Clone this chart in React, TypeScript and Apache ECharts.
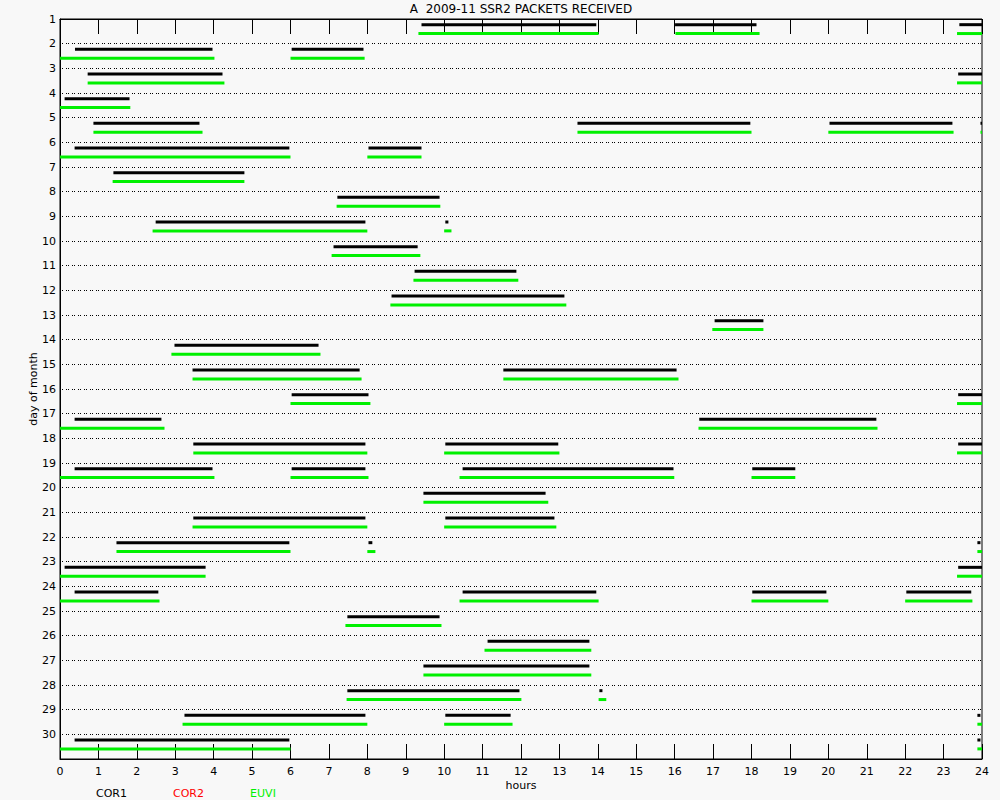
import React, { useEffect, useRef } from "react";
import * as echarts from "echarts";

const titleText = "A  2009-11 SSR2 PACKETS RECEIVED";
const hourTicks = Array.from({ length: 25 }, (_, i) => i);
const legendNames = ["COR1", "COR2", "EUVI"];

// [day, startHour, endHour]
const cor1Segments: number[][] = [
  [1, 9.41, 13.96], [1, 16.01, 18.13], [1, 23.41, 24],
  [2, 0.39, 3.97], [2, 6.03, 7.9],
  [3, 0.72, 4.23], [3, 23.38, 24],
  [4, 0.12, 1.81],
  [5, 0.87, 3.63], [5, 13.47, 17.97], [5, 20.03, 23.23], [5, 23.96, 24],
  [6, 0.38, 5.97], [6, 8.03, 9.41],
  [7, 1.39, 4.8],
  [8, 7.22, 9.88],
  [9, 2.49, 7.95], [9, 10.03, 10.11],
  [10, 7.12, 9.31],
  [11, 9.23, 11.88],
  [12, 8.63, 13.13],
  [13, 17.04, 18.31],
  [14, 2.98, 6.73],
  [15, 3.45, 7.8], [15, 11.54, 16.05],
  [16, 6.03, 8.03], [16, 23.38, 24],
  [17, 0.38, 2.64], [17, 16.64, 21.25],
  [18, 3.47, 7.95], [18, 10.03, 12.97], [18, 23.38, 24],
  [19, 0.38, 3.97], [19, 6.03, 7.95], [19, 10.48, 15.97], [19, 18.02, 19.14],
  [20, 9.46, 12.64],
  [21, 3.47, 7.95], [21, 10.03, 12.87],
  [22, 1.47, 5.97], [22, 8.03, 8.13], [22, 23.88, 23.96],
  [23, 0.12, 3.79], [23, 23.38, 24],
  [24, 0.38, 2.56], [24, 10.48, 13.96], [24, 18.02, 19.95], [24, 22.03, 23.72],
  [25, 7.48, 9.88],
  [26, 11.13, 13.78],
  [27, 9.46, 13.78],
  [28, 7.48, 11.96], [28, 14.04, 14.12],
  [29, 3.24, 7.95], [29, 10.03, 11.73], [29, 23.88, 23.96],
  [30, 0.38, 5.97], [30, 23.88, 23.96],
];

const cor2Segments: number[][] = [];

const euviSegments: number[][] = [
  [1, 9.33, 14.02], [1, 16.02, 18.21], [1, 23.35, 24],
  [2, 0, 4.02], [2, 6.0, 7.93],
  [3, 0.72, 4.28], [3, 23.35, 24],
  [4, 0, 1.83],
  [5, 0.87, 3.71], [5, 13.47, 18.0], [5, 20.0, 23.26], [5, 23.96, 24],
  [6, 0, 6.0], [6, 8.0, 9.41],
  [7, 1.37, 4.8],
  [8, 7.2, 9.9],
  [9, 2.41, 8.0], [9, 10.0, 10.19],
  [10, 7.07, 9.38],
  [11, 9.2, 11.93],
  [12, 8.6, 13.18],
  [13, 16.98, 18.31],
  [14, 2.9, 6.78],
  [15, 3.45, 7.85], [15, 11.54, 16.1],
  [16, 6.0, 8.08], [16, 23.35, 24],
  [17, 0, 2.72], [17, 16.62, 21.28],
  [18, 3.47, 8.0], [18, 10.0, 13.0], [18, 23.35, 24],
  [19, 0, 4.02], [19, 6.0, 8.03], [19, 10.4, 15.99], [19, 18.0, 19.14],
  [20, 9.46, 12.71],
  [21, 3.45, 8.0], [21, 10.0, 12.92],
  [22, 1.47, 6.0], [22, 8.0, 8.21], [22, 23.88, 24],
  [23, 0, 3.79], [23, 23.35, 24],
  [24, 0, 2.59], [24, 10.4, 14.02], [24, 18.0, 20.0], [24, 22.0, 23.75],
  [25, 7.43, 9.93],
  [26, 11.05, 13.83],
  [27, 9.46, 13.83],
  [28, 7.46, 12.01], [28, 14.02, 14.22],
  [29, 3.19, 8.0], [29, 10.0, 11.78], [29, 23.88, 24],
  [30, 0, 6.0], [30, 23.88, 24],
];

const FONT = "DejaVu Sans";
const BLACK = "#000000";
const RED = "#ff0000";
const GREEN = "#00f000";

function makeSeries(name: string, data: number[][], color: string, offset: number) {
  return {
    type: "custom",
    name,
    xAxisIndex: 0,
    yAxisIndex: 0,
    data,
    encode: { x: [1, 2], y: 0 },
    renderItem: (params: any, api: any) => {
      const day = api.value(0);
      const s = api.coord([api.value(1), day + offset]);
      const e = api.coord([api.value(2), day + offset]);
      const w = Math.max(e[0] - s[0], 1.5);
      return {
        type: "rect",
        shape: { x: s[0], y: s[1] - 1.5, width: w, height: 3 },
        style: { fill: color },
      };
    },
  };
}

export default function App() {
  const ref = useRef<HTMLDivElement>(null);
  useEffect(() => {
    if (!ref.current) return;
    const chart = echarts.init(ref.current, null, { renderer: "svg" });
    const axisCommon = {
      type: "value",
      min: hourTicks[0],
      max: hourTicks[hourTicks.length - 1],
      interval: 1,
      splitLine: { show: false },
      axisLine: { show: true, lineStyle: { color: BLACK, width: 1 } },
      axisTick: { show: true, inside: true, length: 15, lineStyle: { color: BLACK, width: 1 } },
    };
    chart.setOption({
      animation: false,
      backgroundColor: "#f8f8f8",
      textStyle: { fontFamily: FONT },
      grid: {
        left: 60,
        right: 18,
        top: 19,
        bottom: 41,
        show: true,
        borderColor: BLACK,
        borderWidth: 1,
        backgroundColor: "transparent",
      },
      xAxis: [
        {
          ...axisCommon,
          position: "bottom",
          name: "hours",
          nameLocation: "middle",
          nameGap: 21,
          nameMoveOverlap: false,
          nameTextStyle: { color: BLACK, fontSize: 11, fontFamily: FONT },
          axisLabel: { show: true, color: BLACK, fontSize: 11, margin: 7, fontFamily: FONT },
        },
        {
          ...axisCommon,
          position: "top",
          axisLabel: { show: false },
        },
      ],
      yAxis: [
        {
          type: "value",
          min: 1,
          max: 31,
          interval: 1,
          inverse: true,
          name: "day of month",
          nameLocation: "middle",
          nameGap: 21,
          nameRotate: 90,
          nameMoveOverlap: false,
          nameTextStyle: { color: BLACK, fontSize: 11, fontFamily: FONT },
          axisLine: { show: true, lineStyle: { color: BLACK, width: 1 } },
          axisTick: { show: false },
          axisLabel: {
            color: BLACK,
            fontSize: 11,
            margin: 4,
            fontFamily: FONT,
            formatter: (v: number) => (v >= 31 ? "" : String(v)),
          },
          splitLine: {
            show: true,
            lineStyle: { color: BLACK, width: 1, type: [1, 1, 1, 3] },
          },
        },
      ],
      series: [
        makeSeries(legendNames[0], cor1Segments, BLACK, 0.23),
        makeSeries(legendNames[1], cor2Segments, RED, 0.4),
        makeSeries(legendNames[2], euviSegments, GREEN, 0.59),
      ],
      graphic: [
        {
          type: "text",
          x: 521,
          y: 9,
          style: {
            text: titleText,
            fill: BLACK,
            font: `12px "${FONT}"`,
            textAlign: "center",
            textVerticalAlign: "middle",
          },
        },
        {
          type: "text",
          x: 111.5,
          y: 793,
          style: { text: legendNames[0], fill: BLACK, font: `11px "${FONT}"`, textAlign: "center", textVerticalAlign: "middle" },
        },
        {
          type: "text",
          x: 188.5,
          y: 793,
          style: { text: legendNames[1], fill: RED, font: `11px "${FONT}"`, textAlign: "center", textVerticalAlign: "middle" },
        },
        {
          type: "text",
          x: 263,
          y: 793,
          style: { text: legendNames[2], fill: GREEN, font: `11px "${FONT}"`, textAlign: "center", textVerticalAlign: "middle" },
        },
      ],
    });
    return () => chart.dispose();
  }, []);
  return (
    <div
      ref={ref}
      style={{ position: "absolute", left: 0, top: 0, width: 1000, height: 800 }}
    />
  );
}
